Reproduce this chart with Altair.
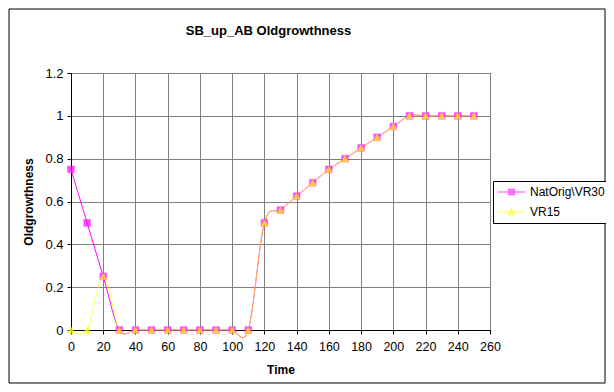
import altair as alt
import pandas as pd

# ---- data ----
times = [0, 10, 20, 30, 40, 50, 60, 70, 80, 90, 100, 110, 120, 130, 140, 150,
         160, 170, 180, 190, 200, 210, 220, 230, 240, 250]
natorig_vr30 = [0.75, 0.5, 0.25, 0, 0, 0, 0, 0, 0, 0, 0, 0, 0.5, 0.56, 0.625, 0.6875,
                0.75, 0.8, 0.85, 0.9, 0.95, 1, 1, 1, 1, 1]
vr15 = [0, 0, 0.25, 0, 0, 0, 0, 0, 0, 0, 0, 0, 0.5, 0.56, 0.625, 0.6875,
        0.75, 0.8, 0.85, 0.9, 0.95, 1, 1, 1, 1, 1]
series_names = ["NatOrig\\VR30", "VR15"]
series_colors = ["#FF00FF", "#FFFF00"]
x_ticks = [0, 20, 40, 60, 80, 100, 120, 140, 160, 180, 200, 220, 240, 260]
y_ticks = [0, 0.2, 0.4, 0.6, 0.8, 1, 1.2]

rows = []
for name, vals in zip(series_names, [natorig_vr30, vr15]):
    for t, v in zip(times, vals):
        rows.append({"series": name, "time": t, "value": v})
df = pd.DataFrame(rows)

FONT = "Liberation Sans"

legend = alt.Legend(
    title=None, orient="none", legendX=422, legendY=108,
    strokeColor="black", fillColor="white", padding=4, cornerRadius=0,
    labelFont=FONT, labelFontSize=12, labelColor="black",
    symbolSize=784, symbolStrokeWidth=1, clipHeight=14, rowPadding=6,
    labelOffset=4,
)

x_enc = alt.X("time:Q", scale=alt.Scale(domain=[0, 260], nice=False),
              axis=alt.Axis(values=x_ticks, title="Time", format="d",
                            labelOverlap=False, labelFlush=False, labelFontSize=12.5))
y_enc = alt.Y("value:Q", scale=alt.Scale(domain=[0, 1.2], nice=False),
              axis=alt.Axis(values=y_ticks, title="Oldgrowthness", format="~g",
                            labelOverlap=False, labelFlush=False))
stroke_enc = alt.Stroke("series:N", scale=alt.Scale(domain=series_names, range=series_colors), legend=legend)
fill_enc = alt.Fill("series:N", scale=alt.Scale(domain=series_names, range=series_colors), legend=legend)

base = alt.Chart(df)

border = alt.Chart(pd.DataFrame({"a": [0]})).mark_rect(
    fill="transparent", stroke="black", strokeWidth=1
).encode(x=alt.value(-62), x2=alt.value(534), y=alt.value(-64), y2=alt.value(310))

line1 = base.transform_filter(alt.datum.series == series_names[0]).mark_line(
    interpolate="cardinal", strokeWidth=1
).encode(x=x_enc, y=y_enc, stroke=stroke_enc)
line2 = base.transform_filter(alt.datum.series == series_names[1]).mark_line(
    interpolate="cardinal", strokeWidth=1, strokeOpacity=0.7
).encode(x=x_enc, y=y_enc, stroke=stroke_enc)

pts1 = base.transform_filter(alt.datum.series == series_names[0]).mark_point(
    filled=True, shape="square", size=46, strokeWidth=0.5
).encode(x=x_enc, y=y_enc, fill=fill_enc, stroke=stroke_enc)
pts2 = base.transform_filter(alt.datum.series == series_names[1]).mark_point(
    filled=True, shape="triangle-up", size=55, strokeWidth=0.5
).encode(x=x_enc, y=y_enc, fill=fill_enc, stroke=stroke_enc)

legend_shapes = [
    "M-1,0H1M-0.2,-0.2H0.2V0.2H-0.2Z",
    "M-1,0H1M0,-0.26L0.26,0.2H-0.26Z",
]
phantom = base.transform_filter("false").mark_point(filled=True).encode(
    x=x_enc, y=y_enc, fill=fill_enc, stroke=stroke_enc,
    shape=alt.Shape("series:N", scale=alt.Scale(domain=series_names, range=legend_shapes), legend=legend),
)

chart = alt.layer(border, line1, line2, pts1, pts2, phantom).properties(
    width=419, height=257,
    autosize=alt.AutoSizeParams(type="none"),
    padding={"left": 63, "top": 65, "right": 116, "bottom": 54},
    title=alt.TitleParams("SB_up_AB Oldgrowthness", font=FONT, fontSize=13, fontWeight="bold",
                          anchor="middle", frame="group", dx=-12, offset=0, dy=39,
                          baseline="alphabetic", color="black"),
).configure(background="white", font=FONT).configure_view(
    stroke="black", strokeWidth=1
).configure_axis(
    grid=True, gridColor="#808080", gridWidth=1, domainColor="black", domainWidth=1,
    tickColor="black", tickSize=4, labelFont=FONT, labelFontSize=13, labelColor="black",
    titleFont=FONT, titleFontSize=12, titleFontWeight="bold", titleColor="black",
).configure_axisX(labelPadding=6, titlePadding=12).configure_axisY(labelPadding=4, titlePadding=9)

chart.save("out.html", embed_options={"renderer": "svg", "actions": False})
